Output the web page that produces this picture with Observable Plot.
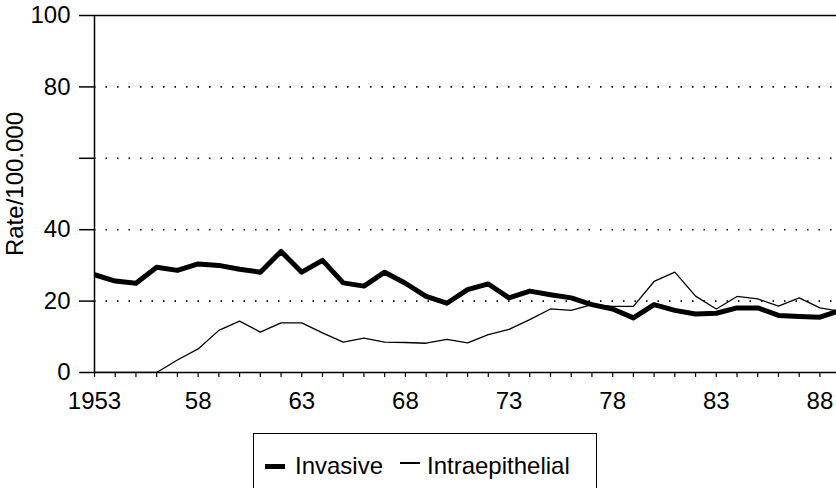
<!DOCTYPE html>
<html>
<head>
<meta charset="utf-8">
<script src="https://cdn.jsdelivr.net/npm/d3@7"></script>
<script src="https://cdn.jsdelivr.net/npm/@observablehq/plot@0.6"></script>
<style>
  body { margin: 0; background: #fff; font-family: "Liberation Sans", Arial, Helvetica, sans-serif; }
  #chart svg { display: block; }
  #legend {
    position: relative;
    margin-top: 13px; margin-left: 253px;
    width: 344px; height: 55px;
    border-top: 1.5px solid #000; border-left: 1.5px solid #000; border-right: 1.5px solid #000;
    box-sizing: border-box;
    font-size: 24px; color: #000;
  }
  .item { position: absolute; top: 18px; display: flex; align-items: center; height: 28px; }
  .sw { display: inline-block; width: 20px; background: #000; margin-right: 10px; }
</style>
</head>
<body>
<div id="chart"></div>
<div id="legend">
  <div class="item" style="left:11px"><span class="sw" style="height:5px"></span>Invasive</div>
  <div class="item" style="left:146px"><span class="sw" style="height:1.3px;margin-top:-6px;margin-right:7px"></span>Intraepithelial</div>
</div>
<script>
const years = d3.range(1953, 1990);
const invasive = [27.4, 25.6, 25.0, 29.5, 28.6, 30.4, 30.0, 28.9, 28.1, 33.9,
                  28.1, 31.4, 25.1, 24.2, 28.1, 25.0, 21.3, 19.4, 23.2, 24.8,
                  20.9, 22.8, 21.8, 20.9, 19.0, 17.8, 15.3, 19.0, 17.4, 16.4,
                  16.6, 18.1, 18.1, 16.0, 15.7, 15.5, 17.4];
const intraepithelial = [0, 0, 0, 0, 3.5, 6.6, 11.8, 14.4, 11.3, 13.9,
                         13.9, 11.1, 8.5, 9.6, 8.5, 8.4, 8.2, 9.3, 8.3, 10.6,
                         12.1, 14.8, 17.8, 17.4, 19.0, 18.5, 18.5, 25.5, 28.1, 21.4,
                         17.8, 21.3, 20.6, 18.6, 20.9, 18.1, 17.1];
const yTicks = [0, 20, 40, 60, 80, 100];
const yTickLabels = ["0", "20", "40", "", "80", "100"];
const xLabelYears = [1953, 1958, 1963, 1968, 1973, 1978, 1983, 1988];
const xTickLabels = ["1953", "58", "63", "68", "73", "78", "83", "88"];
const gridValues = [20, 40, 60, 80];
const yTitle = "Rate/100.000";

const invData = years.map((y, i) => ({year: y, value: invasive[i]}));
const intraData = years.map((y, i) => ({year: y, value: intraepithelial[i]}));

const chart = Plot.plot({
  width: 836,
  height: 420,
  marginLeft: 94,
  marginRight: 0,
  marginTop: 15,
  marginBottom: 48,
  style: {fontFamily: '"Liberation Sans", Arial, Helvetica, sans-serif', fontSize: "24px", color: "#000", background: "#fff", overflow: "visible"},
  x: {domain: [1953, 1988.8]},
  y: {domain: [0, 100]},
  marks: [
    Plot.ruleY(gridValues, {stroke: "#000", strokeWidth: 1.6, strokeDasharray: "1.5,10"}),
    Plot.ruleY([100], {stroke: "#000", strokeWidth: 1.5}),
    Plot.ruleY([0], {stroke: "#000", strokeWidth: 1.5}),
    Plot.ruleX([1953], {stroke: "#000", strokeWidth: 1.5}),
    Plot.axisY({ticks: yTicks, tickSize: 15, tickPadding: 9, fontSize: 24,
      tickFormat: d => yTickLabels[yTicks.indexOf(d)], label: null, strokeWidth: 1.5}),
    Plot.axisX({ticks: d3.range(1953, 1989), tickSize: 5, tickPadding: 14, fontSize: 24,
      tickFormat: d => { const k = xLabelYears.indexOf(d); return k >= 0 ? xTickLabels[k] : ""; },
      label: null, strokeWidth: 1.2}),
    Plot.line(intraData, {x: "year", y: "value", stroke: "#000", strokeWidth: 1.3, clip: true}),
    Plot.line(invData, {x: "year", y: "value", stroke: "#000", strokeWidth: 5, clip: true}),
    Plot.text([yTitle], {frameAnchor: "left", dx: -79, dy: -10, rotate: -90, textAnchor: "middle",
      lineAnchor: "middle", fontSize: 24, text: d => d})
  ]
});
document.getElementById("chart").appendChild(chart);
</script>
</body>
</html>
